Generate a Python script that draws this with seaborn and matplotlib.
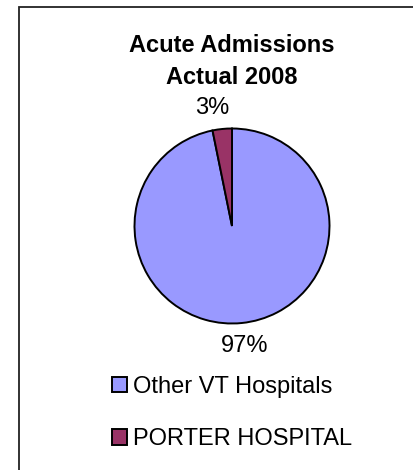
import matplotlib.pyplot as plt
from matplotlib.patches import Rectangle
import seaborn as sns

# chart data
hospitals = ['Other VT Hospitals', 'PORTER HOSPITAL']
admissions_pct = [96.8, 3.2]
slice_colors = ['#9999FF', '#993366']
title_lines = ['Acute Admissions', 'Actual 2008']

sns.set_theme(style='white')
plt.rcParams['font.family'] = ['Liberation Sans', 'DejaVu Sans']
plt.rcParams['text.color'] = 'black'

W, H = 413, 470
fig = plt.figure(figsize=(W / 100, H / 100), dpi=100)
fig.patch.set_facecolor('white')

# outer chart border (runs off the right and bottom edges)
fig.patches.append(Rectangle((19 / W, -0.1), 1.2, 1 - 7 / H + 0.1,
                             transform=fig.transFigure, fill=False,
                             edgecolor='#222222', linewidth=1.3))

# pie axes: centre (232, 226) px, radius ~97.5 px
cx, cy, r = 232, 226, 97.5
ax = fig.add_axes([(cx - r) / W, (H - cy - r) / H, 2 * r / W, 2 * r / H])
wedges, texts, autotexts = ax.pie(
    admissions_pct, colors=slice_colors, startangle=90, counterclock=False,
    autopct='%.0f%%', pctdistance=1.24,
    wedgeprops=dict(edgecolor='black', linewidth=1.4),
    textprops=dict(fontsize=17, color='black'))
for t in autotexts:
    t.set_clip_on(False)
# small label sits a little further left in the original
x0, y0 = autotexts[1].get_position()
autotexts[1].set_position((x0 - 0.08, y0 - 0.02))
ax.set_xlim(-1, 1)
ax.set_ylim(-1, 1)
ax.set_aspect('equal')
ax.axis('off')

# title
fig.text(cx / W, 1 - 45 / H, title_lines[0], ha='center', va='center',
         fontsize=17, fontweight='bold', color='black')
fig.text(cx / W, 1 - 77 / H, title_lines[1], ha='center', va='center',
         fontsize=17, fontweight='bold', color='black')

# legend
leg = fig.legend(wedges, hospitals, loc='center left',
                 bbox_to_anchor=(112 / W, 1 - 413 / H), frameon=False,
                 fontsize=17, handlelength=0.63, handleheight=0.63,
                 handletextpad=0.25, labelspacing=1.3, borderpad=0,
                 borderaxespad=0, labelcolor='black')
for h in leg.legend_handles:
    h.set_linewidth(1.4)
    h.set_edgecolor('black')

fig.savefig('out.png', dpi=100)
